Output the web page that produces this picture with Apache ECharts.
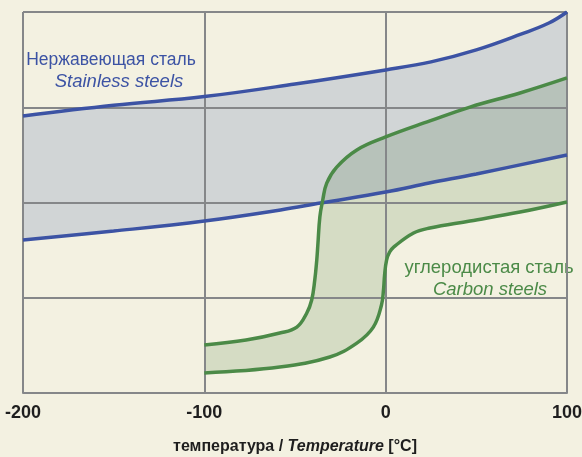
<!DOCTYPE html>
<html><head><meta charset="utf-8">
<script src="https://cdn.jsdelivr.net/npm/echarts@6/dist/echarts.min.js"></script>
<style>html,body{margin:0;padding:0;background:#f3f1e1}#c{width:582px;height:457px}</style>
</head><body><div id="c"></div>
<script>
// x: temperature [°C]; y: relative toughness (axis unlabeled)
const xTicks = [-200, -100, 0, 100];
const stainlessUpper = [[-200,145.4],[-150,151.0],[-100,155.6],[-50,162.2],[0,169.6],[25,173.8],[50,180.1],[75,188.5],[90,194.2],[100,200]];
const stainlessLower = [[-200,80.3],[-150,85.0],[-100,90.3],[-58,96.1],[-36,99.7],[0,105.5],[24,110.2],[50,115.0],[100,124.9]];
const carbonUpper = [[-100,25.2],[-77,27.8],[-58.4,31.5],[-49,34.6],[-43.5,42.0],[-40.8,48.8],[-39.1,59.3],[-38,69.8],[-37.4,77.7],[-36.3,92.4],[-34.7,101.3],[-32.5,110.2],[-27,118.6],[-15.9,127.6],[0,134.4],[24.4,142.8],[46.5,150.1],[74.1,157.5],[100,165.4]];
const carbonLower = [[-100,10.5],[-58.4,13.6],[-30.8,18.9],[-15.9,26.2],[-6.8,34.6],[-2.3,46.2],[-1.2,54.1],[-0.6,61.9],[0.5,69.8],[2.2,74.0],[4.4,76.6],[15.4,84.0],[24.4,86.6],[46.5,90.3],[74.1,95.0],[100,100.3]];
const stainlessLabel = ['Нержавеющая сталь', 'Stainless steels'];
const carbonLabel = ['углеродистая сталь', 'Carbon steels'];

const SMOOTH = 0.4;
function smoothPath(pts) {
  // replicate ECharts line smoothing, sample beziers into polyline
  const n = pts.length, out = [pts[0]];
  const cps = [];
  for (let i = 0; i < n; i++) {
    const [x, y] = pts[i];
    if (i === 0 || i === n - 1) { cps.push([[x, y], [x, y]]); continue; }
    const [px, py] = pts[i - 1], [nx, ny] = pts[i + 1];
    let vx = nx - px, vy = ny - py;
    const l0 = Math.hypot(x - px, y - py), l1 = Math.hypot(nx - x, ny - y);
    const r = l1 / (l0 + l1);
    let c1x = x + vx * SMOOTH * r, c1y = y + vy * SMOOTH * r;
    c1x = Math.max(Math.min(c1x, Math.max(nx, x)), Math.min(nx, x));
    c1y = Math.max(Math.min(c1y, Math.max(ny, y)), Math.min(ny, y));
    vx = c1x - x; vy = c1y - y;
    let c0x = x - vx * l0 / l1, c0y = y - vy * l0 / l1;
    c0x = Math.max(Math.min(c0x, Math.max(px, x)), Math.min(px, x));
    c0y = Math.max(Math.min(c0y, Math.max(py, y)), Math.min(py, y));
    vx = x - c0x; vy = y - c0y;
    c1x = x + vx * l1 / l0; c1y = y + vy * l1 / l0;
    cps.push([[c0x, c0y], [c1x, c1y]]);
  }
  for (let i = 0; i < n - 1; i++) {
    const p0 = pts[i], p3 = pts[i + 1], p1 = cps[i][1], p2 = cps[i + 1][0];
    for (let k = 1; k <= 12; k++) {
      const t = k / 12, u = 1 - t;
      out.push([
        u*u*u*p0[0] + 3*u*u*t*p1[0] + 3*u*t*t*p2[0] + t*t*t*p3[0],
        u*u*u*p0[1] + 3*u*u*t*p1[1] + 3*u*t*t*p2[1] + t*t*t*p3[1]
      ]);
    }
  }
  return out;
}
function bandRender(upper, lower, fill) {
  return function (params, api) {
    if (params.dataIndex !== 0) return;
    const up = smoothPath(upper.map(p => api.coord(p)));
    const lo = smoothPath(lower.map(p => api.coord(p))).reverse();
    return { type: 'polygon', shape: { points: up.concat(lo) }, style: { fill: fill } };
  };
}

const FONT = "'Liberation Sans', Arial, Helvetica, sans-serif";
const BLUE = '#3c53a4', GREEN = '#4b8a47', GRID = '#858789';
function label(x, y, text, font, fill) {
  return { type: 'text', x: x, y: y, style: { text: text, font: font + FONT, fill: fill, align: 'center', verticalAlign: 'middle', textAlign: 'center', textVerticalAlign: 'middle' } };
}
const chart = echarts.init(document.getElementById('c'), null, { renderer: 'canvas' });
chart.setOption({
  backgroundColor: '#f3f1e1',
  animation: false,
  grid: { left: 23, top: 12, width: 544, height: 381, containLabel: false, outerBoundsMode: 'none' },
  xAxis: {
    type: 'value', min: xTicks[0], max: xTicks[xTicks.length - 1], interval: 100,
    axisLine: { show: true, onZero: false, lineStyle: { color: GRID, width: 2 } },
    axisTick: { show: false },
    splitLine: { show: true, lineStyle: { color: GRID, width: 2 } },
    axisLabel: { margin: 11, color: '#1e1e1e', fontSize: 18, fontWeight: 'bold', fontFamily: FONT },
    name: '{a|температура / }{b|Temperature}{a| [°C]}',
    nameLocation: 'middle', nameGap: 46,
    nameTextStyle: {
      rich: {
        a: { fontSize: 16, fontWeight: 'bold', color: '#1e1e1e', fontFamily: FONT },
        b: { fontSize: 16, fontWeight: 'bold', fontStyle: 'italic', color: '#1e1e1e', fontFamily: FONT }
      }
    }
  },
  yAxis: {
    type: 'value', min: 0, max: 200, interval: 50,
    axisLine: { show: true, lineStyle: { color: GRID, width: 2 } },
    axisTick: { show: false }, axisLabel: { show: false },
    splitLine: { show: true, lineStyle: { color: GRID, width: 2 } }
  },
  series: [
    { type: 'custom', z: -2, clip: true, data: [[-200, 0]], renderItem: bandRender(stainlessUpper, stainlessLower, '#d1d5d6') },
    { type: 'custom', z: -1, clip: true, blendMode: 'multiply', data: [[-100, 0]], renderItem: bandRender(carbonUpper, carbonLower, '#e0e9de') },
    { type: 'line', data: stainlessUpper, smooth: SMOOTH, symbol: 'none', lineStyle: { color: BLUE, width: 3.5 }, z: 3 },
    { type: 'line', data: stainlessLower, smooth: SMOOTH, symbol: 'none', lineStyle: { color: BLUE, width: 3.5 }, z: 3 },
    { type: 'line', data: carbonUpper, smooth: SMOOTH, symbol: 'none', lineStyle: { color: GREEN, width: 3.5 }, z: 4 },
    { type: 'line', data: carbonLower, smooth: SMOOTH, symbol: 'none', lineStyle: { color: GREEN, width: 3.5 }, z: 4 }
  ],
  graphic: [
    label(111, 60, stainlessLabel[0], '17.5px ', BLUE),
    label(119, 82, stainlessLabel[1], 'italic 18.5px ', BLUE),
    label(489, 268, carbonLabel[0], '18.5px ', GREEN),
    label(490, 290, carbonLabel[1], 'italic 18.5px ', GREEN)
  ]
});
</script></body></html>
